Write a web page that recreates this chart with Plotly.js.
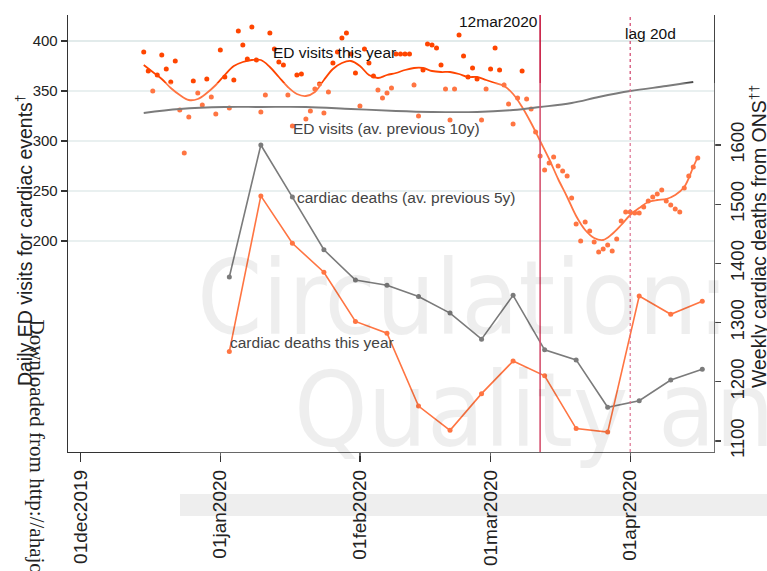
<!DOCTYPE html>
<html><head><meta charset="utf-8">
<script src="https://cdn.plot.ly/plotly-3.0.1.min.js"></script>
<style>html,body{margin:0;padding:0;background:#fff}#chart{width:767px;height:571px}</style>
</head><body><div id="chart"></div>
<script>
// ---- data ----
const edStartDate = '2019-12-15'; // first daily observation, then one value per day
const edVisitsThisYear = [
 389,370,350,366,386,372,359,380,331,288,324,360,348,336,362,344,327,
 391,364,333,361,410,396,382,414,381,329,346,408,392,379,376,346,315,366,367,322,330,352,357,328,349,378,389,403,408,
 387,368,335,392,378,365,351,343,348,353,387,387,387,387,356,325,371,397,396,393,376,352,321,352,406,385,364,373,362,321,352,
 372,393,371,356,337,317,343,370,342,332,309,285,271,278,284,275,270,265,243,217,200,219,210,199,189,192,196,190,202,220,229,
 229,228,228,234,240,244,247,251,240,236,232,229,253,265,274,283
];
const edSmoothDates = ['2019-12-15','2019-12-17','2019-12-19','2019-12-21','2019-12-23','2019-12-25','2019-12-27','2019-12-29','2019-12-31',
 '2020-01-02','2020-01-04','2020-01-06','2020-01-08','2020-01-10','2020-01-12','2020-01-14','2020-01-16','2020-01-18','2020-01-20','2020-01-22',
 '2020-01-24','2020-01-26','2020-01-28','2020-01-30','2020-02-01','2020-02-03','2020-02-05','2020-02-07','2020-02-09','2020-02-11','2020-02-13',
 '2020-02-15','2020-02-17','2020-02-19','2020-02-21','2020-02-23','2020-02-25','2020-02-27','2020-02-29','2020-03-02','2020-03-04','2020-03-06',
 '2020-03-08','2020-03-10','2020-03-12','2020-03-14','2020-03-16','2020-03-18','2020-03-20','2020-03-22','2020-03-24','2020-03-26','2020-03-28',
 '2020-03-30','2020-04-01','2020-04-03','2020-04-05','2020-04-07','2020-04-09','2020-04-11','2020-04-13','2020-04-15','2020-04-16'];
const edSmoothValues = [376,369,362,353,346,341,342,348,356,
 366,375,379,381,381,374,364,354,347,345,349,
 361,372,378,380,375,366,363,366,368,371,373,
 373,370,369,369,367,364,364,361,358,355,347,
 334,318,300,282,262,244,225,211,203,201,207,
 216,226,233,239,241,242,246,254,274,284];
const edPrevDates = ['2019-12-15','2019-12-23','2020-01-02','2020-01-10','2020-01-20','2020-01-30','2020-02-09','2020-02-17',
 '2020-02-27','2020-03-06','2020-03-12','2020-03-19','2020-03-25','2020-04-01','2020-04-09','2020-04-15'];
const edPrevValues = [328,332,334,334,334,332,330,329,329,331,334,338,344,350,355,359];
const deathDates = ['2020-01-03','2020-01-10','2020-01-17','2020-01-24','2020-01-31','2020-02-07','2020-02-14','2020-02-21',
 '2020-02-28','2020-03-06','2020-03-13','2020-03-20','2020-03-27','2020-04-03','2020-04-10','2020-04-17'];
const deathsPrev5y = [1377,1600,1512,1423,1372,1363,1344,1316,1272,1346,1254,1237,1157,1168,1203,1221];
const deathsThisYear = [1251,1514,1434,1385,1302,1282,1159,1118,1180,1235,1210,1121,1115,1345,1314,1336];
const xTickVals = ['2019-12-01','2020-01-01','2020-02-01','2020-03-01','2020-04-01'];
const xTickText = ['01dec2019','01jan2020','01feb2020','01mar2020','01apr2020'];
const leftTicks = [200,250,300,350,400];
const rightTicks = [1100,1200,1300,1400,1500,1600];

// ---- build ----
function dailyDates(start, n){
  const out = []; const t0 = Date.parse(start + 'T00:00:00Z');
  for (let i = 0; i < n; i++) out.push(new Date(t0 + i*86400000).toISOString().slice(0,10));
  return out;
}
const edDates = dailyDates(edStartDate, edVisitsThisYear.length);
const ORANGE = '#ff4500', GRAY = '#4d4d4d';
const FONT = '"Liberation Sans", Arial, sans-serif';

const traces = [
  {x: edDates, y: edVisitsThisYear, type:'scatter', mode:'markers', marker:{size:5, color:ORANGE}, yaxis:'y', hoverinfo:'skip'},
  {x: edSmoothDates, y: edSmoothValues, type:'scatter', mode:'lines', line:{color:ORANGE, width:1.8, shape:'spline', smoothing:1}, yaxis:'y'},
  {x: edPrevDates, y: edPrevValues, type:'scatter', mode:'lines', line:{color:GRAY, width:1.8, shape:'spline', smoothing:1}, yaxis:'y'},
  {x: deathDates, y: deathsPrev5y, type:'scatter', mode:'lines+markers', line:{color:GRAY, width:1.6}, marker:{size:5, color:GRAY}, yaxis:'y2'},
  {x: deathDates, y: deathsThisYear, type:'scatter', mode:'lines+markers', line:{color:ORANGE, width:1.6}, marker:{size:5, color:ORANGE}, yaxis:'y2'}
];

const lbl = (text, x, y, opts) => Object.assign({text, x, y, xref:'x', yref:'y', showarrow:false, xanchor:'left', yanchor:'middle',
  font:{family:FONT, size:15.5, color:'#444'}}, opts||{});

const layout = {
  width:767, height:571,
  margin:{l:68, r:53, t:15, b:119, pad:0},
  paper_bgcolor:'#ffffff', plot_bgcolor:'#ffffff',
  showlegend:false,
  font:{family:FONT, color:'#222'},
  xaxis:{type:'date', range:['2019-11-28 04:25','2020-04-19 14:30'], tickvals:xTickVals, ticktext:xTickText,
    tickangle:-90, ticks:'outside', ticklen:9, tickwidth:1.2, tickcolor:'#333',
    showline:true, linecolor:'#333', linewidth:1.3, showgrid:false, zeroline:false,
    tickfont:{family:FONT, size:19, color:'#222'}},
  yaxis:{range:[-11,426], tickvals:leftTicks, ticks:'outside', ticklen:6, tickwidth:1.2, tickcolor:'#333',
    showline:true, linecolor:'#333', linewidth:1.3, showgrid:true, gridcolor:'#e2ebeb', gridwidth:1.5, zeroline:false,
    tickfont:{family:FONT, size:15, color:'#222'}},
  yaxis2:{overlaying:'y', side:'right', range:[1081.4,1819.6], tickvals:rightTicks, tickangle:-90,
    ticks:'outside', ticklen:6, tickwidth:1.2, tickcolor:'#444', showline:true, linecolor:'#444', linewidth:1.3,
    showgrid:false, zeroline:false, tickfont:{family:FONT, size:18.5, color:'#222'}},
  shapes:[
    {type:'rect', xref:'paper', yref:'paper', x0:0.1734, x1:1.1, y0:-0.1465, y1:-0.0961, fillcolor:'#eeeeee', line:{width:0}, layer:'below'},
    {type:'line', xref:'x', yref:'paper', x0:'2020-03-12', x1:'2020-03-12', y0:0, y1:1, line:{color:'#c8173f', width:1.6}, layer:'above'},
    {type:'line', xref:'x', yref:'paper', x0:'2020-04-01', x1:'2020-04-01', y0:0, y1:1, line:{color:'#d0406a', width:1.2, dash:'dot'}, layer:'above'},
    {type:'rect', xref:'paper', yref:'paper', x0:0.0015, x1:1.003, y0:0.0069, y1:0.8444, fillcolor:'rgba(255,255,255,0.26)', line:{width:0}, layer:'above'},
    {type:'rect', xref:'paper', yref:'paper', x0:0.1734, x1:1.003, y0:-0.0092, y1:0.0069, fillcolor:'rgba(255,255,255,0.26)', line:{width:0}, layer:'above'}
  ],
  annotations:[
    lbl('ED visits this year', '2020-01-12 05:00', 389, {font:{family:FONT, size:15.5, color:'#111'}}),
    lbl('ED visits (av. previous 10y)', '2020-01-16 17:00', 313),
    lbl('cardiac deaths (av. previous 5y)', '2020-01-17 14:00', 244),
    lbl('cardiac deaths this year', '2020-01-02 17:00', 99),
    lbl('12mar2020', '2020-03-12', 420, {xanchor:'right', font:{family:FONT, size:15.5, color:'#111'}}),
    lbl('lag 20d', '2020-03-30 07:00', 408, {font:{family:FONT, size:15.5, color:'#111'}}),
    {text:'Daily ED visits for cardiac events<sup>†</sup>', xref:'paper', yref:'paper', x:-0.0681, y:0.485, textangle:-90,
      showarrow:false, xanchor:'center', yanchor:'middle', font:{family:FONT, size:19.5, color:'#222'}},
    {text:'Weekly cardiac deaths from ONS<sup>††</sup>', xref:'paper', yref:'paper', x:1.068, y:0.494, textangle:-90,
      showarrow:false, xanchor:'center', yanchor:'middle', font:{family:FONT, size:19.5, color:'#222'}},
    {text:'Circulation: Cardiovascular', xref:'paper', yref:'paper', x:0.1966, y:0.352, showarrow:false, xanchor:'left', yanchor:'middle',
      font:{family:'"Liberation Sans Narrow", "Arial Narrow", "DejaVu Sans Condensed", "Liberation Sans", Arial', size:104, color:'rgba(0,0,0,0.065)'}},
    {text:'Quality and Outcomes', xref:'paper', yref:'paper', x:0.3467, y:0.096, showarrow:false, xanchor:'left', yanchor:'middle',
      font:{family:'"Liberation Sans Narrow", "Arial Narrow", "DejaVu Sans Condensed", "Liberation Sans", Arial', size:104, color:'rgba(0,0,0,0.065)'}},
    {text:'Downloaded from http://ahajournals.org', xref:'paper', yref:'paper', x:-0.048, y:0.3066, textangle:90,
      showarrow:false, xanchor:'center', yanchor:'top', font:{family:'"Liberation Serif", "Times New Roman", serif', size:21, color:'#222'}}
  ]
};

Plotly.newPlot('chart', traces, layout, {staticPlot:true, displayModeBar:false});
</script>
</body></html>
